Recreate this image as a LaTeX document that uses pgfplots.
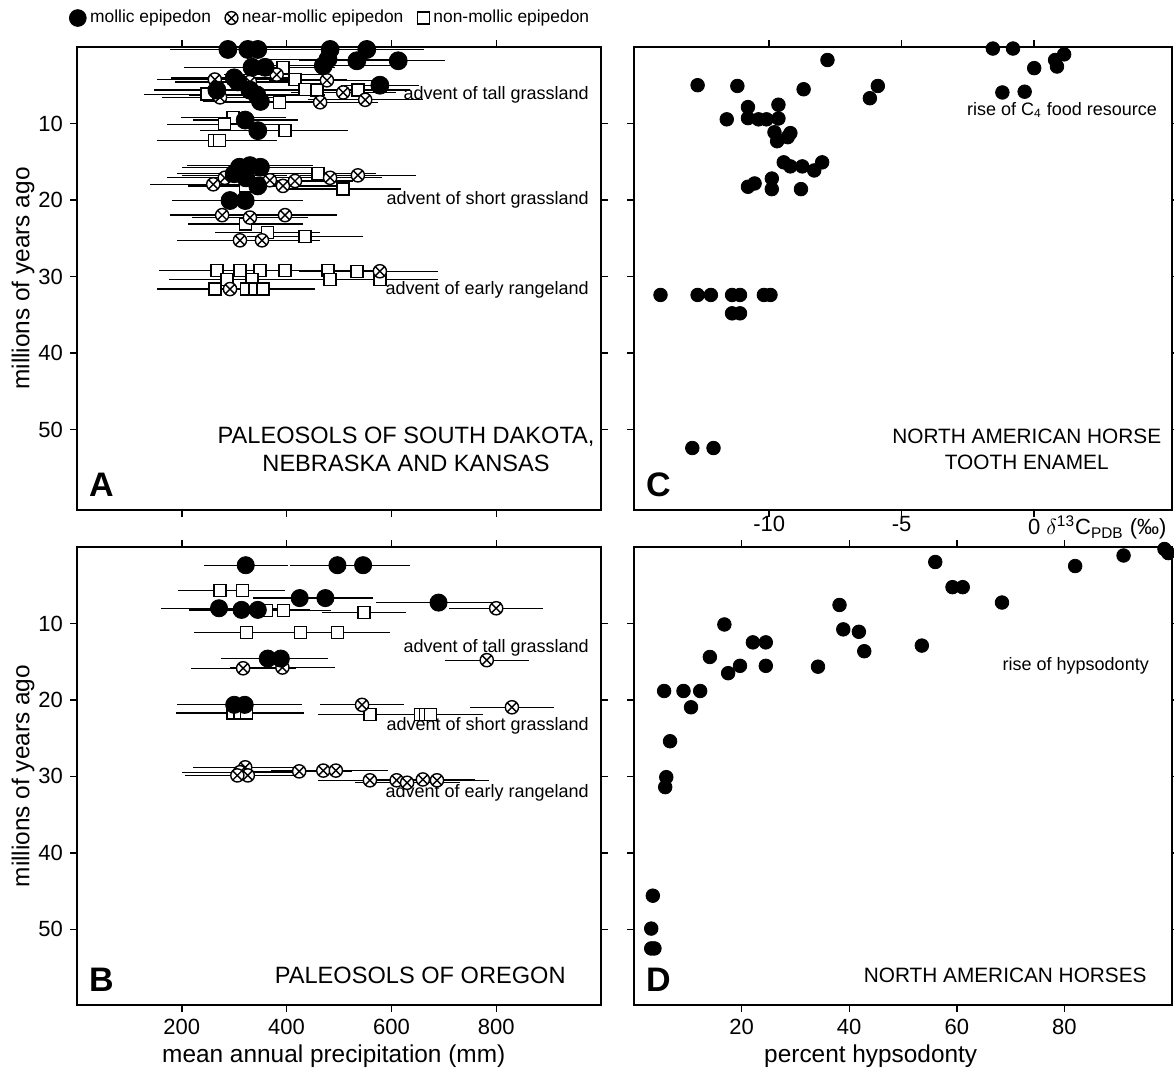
\documentclass[border=0pt]{standalone}
\usepackage{fontspec}
\setmainfont{Liberation Sans}
\usepackage{pgfplots}
\usepackage{pgfplotstable}
\pgfplotsset{compat=1.18}

% Panel A: South Dakota, Nebraska, Kansas (mm, Ma, +/- mm)
\pgfplotstableread{
x y e
288 0.32 110
326 0.32 120
345 0.32 120
483 0.32 130
553 0.32 110
479 1.59 120
534 1.80 110
613 1.80 90
470 2.44 130
334 2.65 130
359 2.65 120
307 4.56 120
578 4.99 75
267 5.63 120
330 5.63 120
343 6.26 130
300 4.03 120
350 7.11 110
321 9.55 100
345 10.93 110
310 15.71 110
330 15.50 120
350 15.71 110
300 16.56 110
322 17.09 110
345 18.15 110
292 20.06 110
321 20.06 110
}\Amol
\pgfplotstableread{
x y e
263 4.25 110
381 3.61 100
477 4.35 110
508 5.94 100
550 6.90 110
464 7.22 110
330 4.56 100
273 6.58 110
260 17.94 120
282 17.09 110
300 16.77 100
368 17.41 110
393 18.15 110
416 17.51 110
483 17.09 100
536 16.77 110
277 21.97 100
330 22.29 110
397 21.97 100
311 25.26 120
353 25.26 110
578 29.30 110
292 31.63 110
}\Anear
\pgfplotstableread{
x y e
393 2.65 100
416 4.25 100
435 5.52 110
458 5.63 100
387 7.22 120
536 5.63 100
248 6.16 120
298 9.23 100
282 10.08 110
397 10.93 120
262 12.21 110
272 12.21 110
321 18.15 110
460 16.56 110
508 18.57 110
321 23.14 110
363 24.20 100
435 24.73 110
267 29.19 110
311 29.19 120
349 29.19 110
397 29.19 100
479 29.19 110
534 29.30 110
286 30.36 110
334 30.36 120
483 30.36 110
578 30.36 110
263 31.63 110
324 31.63 110
340 31.63 100
355 31.63 100
}\Anon

% Panel B: Oregon
\pgfplotstableread{
x y e
322 2.38 80
497 2.38 90
546 2.38 90
425 6.68 90
474 6.68 90
690 7.27 120
271 8.01 110
314 8.22 100
345 8.22 100
364 14.59 90
389 14.59 90
300 20.64 110
320 20.64 110
}\Bmol
\pgfplotstableread{
x y e
317 15.86 100
392 15.76 100
782 14.80 80
544 20.64 80
830 20.96 80
800 8.01 90
321 28.81 100
311 29.45 110
326 29.87 110
306 29.87 100
424 29.34 100
470 29.24 100
494 29.24 100
559 30.51 100
610 30.51 100
630 30.83 100
660 30.40 100
687 30.51 100
}\Bnear
\pgfplotstableread{
x y e
273 5.67 80
316 5.67 80
362 8.33 90
394 8.33 90
548 8.54 80
324 11.19 100
427 11.19 100
497 11.19 100
298 21.71 110
311 21.71 110
324 21.71 110
559 21.92 100
655 21.92 100
665 21.92 100
675 21.92 100
}\Bnon

% Panel C: horse tooth enamel (d13C, Ma)
\pgfplotstableread{
x y
-1.56 0.2
-0.8 0.2
1.13 0.96
0.79 1.70
0.86 2.55
0 2.76
-7.8 1.70
-12.7 4.99
-11.2 5.09
-8.7 5.52
-5.9 5.09
-6.2 6.69
-1.2 5.94
-0.36 5.84
-10.8 7.85
-9.65 7.54
-11.6 9.45
-10.8 9.29
-10.4 9.45
-10.1 9.45
-9.65 9.34
-9.8 11.14
-9.7 12.31
-9.3 11.78
-9.2 11.25
-9.45 15.07
-9.2 15.60
-8.75 15.60
-8.3 16.13
-8.0 15.07
-10.8 18.26
-10.55 17.83
-9.9 17.19
-9.9 18.57
-8.8 18.57
-14.1 32.4
-12.7 32.4
-12.2 32.4
-11.4 32.4
-11.1 32.4
-10.2 32.4
-9.95 32.4
-11.4 34.8
-11.1 34.8
-12.9 52.4
-12.1 52.4
}\Cdat

% Panel D: percent hypsodonty (%, Ma)
\pgfplotstableread{
x y
98.6 0.26
99.3 0.79
91.0 1.11
82.0 2.49
56.0 1.96
59.2 5.25
61.1 5.25
68.4 7.26
38.2 7.58
16.8 10.13
38.9 10.77
41.8 11.09
42.8 13.63
22.1 12.47
24.5 12.47
14.1 14.38
19.7 15.54
24.5 15.54
17.5 16.50
34.2 15.65
53.5 12.89
5.6 18.83
9.2 18.83
12.3 18.83
10.6 20.96
6.7 25.4
6.0 30.1
5.8 31.4
3.5 45.6
3.2 49.9
3.2 52.5
3.8 52.5
}\Ddat

\pgfplotsset{
  panel/.style={
    scale only axis,
    y dir=reverse, ymin=0,
    ytick={10,20,30,40,50},
    tick align=outside, major tick length=3.5pt,
    axis line style={line width=0.75pt},
    every tick/.style={line width=0.7pt, black},
    tick label style={font=\fontsize{11}{13}\selectfont},
    label style={font=\fontsize{12.2}{14}\selectfont},
    /pgf/number format/assume math mode=true,
    clip=false,
  },
  toprow/.style={panel, height=231.5pt, ymax=60.5},
  botrow/.style={panel, height=229pt, ymax=59.9},
  ebar/.style={error bars/.cd, x dir=both, x explicit, error mark=none,
    error bar style={line width=0.65pt, black}},
  mol/.style={only marks, mark=*, mark size=#1, mark options={draw=black, fill=black}},
  near/.style={only marks, mark=otimes*, mark size=3.3pt, mark options={draw=black, fill=white, line width=0.7pt}},
  non/.style={only marks, mark=square*, mark size=3pt, mark options={draw=black, fill=white, line width=0.7pt}},
}
\tikzset{
  note/.style={font=\fontsize{9}{10}\selectfont, anchor=east},
  ttlA/.style={font=\fontsize{11.8}{14}\selectfont, align=center},
  ttlC/.style={font=\fontsize{10.4}{13}\selectfont, align=center},
  letter/.style={font=\fontsize{17}{19}\selectfont\bfseries, anchor=south west, xshift=2.5pt, yshift=3pt},
}

\begin{document}
\begin{tikzpicture}
\useasboundingbox (0,0) rectangle (587pt,-536pt);

% ---------- A ----------
\begin{axis}[toprow, at={(38.5pt,-23.5pt)}, anchor=north west, width=262pt,
  xmin=0, xmax=1000, xtick={200,400,600,800}, xticklabels={},
  ylabel={millions of years ago},
  ylabel style={at={(axis description cs:-0.103,0.5)}, anchor=center},
  legend columns=3,
  legend style={at={(axis description cs:0,1.0626)}, anchor=west, xshift=-7pt,
    draw=none, fill=none, font=\fontsize{8.7}{10}\selectfont,
    /tikz/every even column/.append style={column sep=5pt}},
  legend image code/.code={\draw[#1] plot coordinates {(0.1cm,0cm)};},
]
\addlegendimage{mol=4.2pt}
\addlegendentry{mollic epipedon}
\addlegendimage{only marks, mark=otimes*, mark size=3.2pt, mark options={draw=black, fill=white, line width=0.7pt}}
\addlegendentry{near-mollic epipedon}
\addlegendimage{only marks, mark=square*, mark size=3pt, mark options={draw=black, fill=white, line width=0.7pt}}
\addlegendentry{non-mollic epipedon}
\addplot[forget plot, non, ebar] table[x=x, y=y, x error=e] {\Anon};
\addplot[forget plot, near, ebar] table[x=x, y=y, x error=e] {\Anear};
\addplot[forget plot, mol=4.5pt, ebar] table[x=x, y=y, x error=e] {\Amol};
\node[note] at (axis cs:990,6.3) {advent of tall grassland};
\node[note] at (axis cs:990,19.95) {advent of short grassland};
\node[note] at (axis cs:990,31.7) {advent of early rangeland};
\node[ttlA] at (axis description cs:0.628,0.13) {PALEOSOLS OF SOUTH DAKOTA,\\ NEBRASKA AND KANSAS};
\node[letter] at (axis description cs:0,0) {A};
\end{axis}

% ---------- B ----------
\begin{axis}[botrow, at={(38.5pt,-273.5pt)}, anchor=north west, width=262pt,
  xmin=0, xmax=1000, xtick={200,400,600,800},
  ylabel={millions of years ago},
  ylabel style={at={(axis description cs:-0.103,0.5)}, anchor=center},
  xlabel={mean annual precipitation (mm)},
  xlabel style={at={(axis description cs:0.49,-0.111)}, anchor=center},
]
\addplot[non, ebar] table[x=x, y=y, x error=e] {\Bnon};
\addplot[near, ebar] table[x=x, y=y, x error=e] {\Bnear};
\addplot[mol=4.3pt, ebar] table[x=x, y=y, x error=e] {\Bmol};
\node[note] at (axis cs:990,13.2) {advent of tall grassland};
\node[note] at (axis cs:990,23.4) {advent of short grassland};
\node[note] at (axis cs:990,32.2) {advent of early rangeland};
\node[ttlA] at (axis description cs:0.655,0.065) {PALEOSOLS OF OREGON};
\node[letter] at (axis description cs:0,0) {B};
\end{axis}

% ---------- C ----------
\begin{axis}[toprow, at={(317pt,-23.5pt)}, anchor=north west, width=269pt,
  xmin=-15.1, xmax=5.2, xtick={-10,-5,0},
  xticklabels={-10,-5,{0\rlap{ $\delta$\textsuperscript{13}C\textsubscript{PDB} (‰)}}},
  xticklabel style={yshift=4pt},
  yticklabels={},
]
\addplot[mol=3.4pt] table[x=x, y=y] {\Cdat};
\node[note] at (axis cs:4.9,8.17) {rise of C\textsubscript{4} food resource};
\node[ttlC] at (axis description cs:0.73,0.13) {NORTH AMERICAN HORSE\\ TOOTH ENAMEL};
\node[letter] at (axis description cs:0,0) {C};
\end{axis}

% ---------- D ----------
\begin{axis}[botrow, at={(317pt,-273.5pt)}, anchor=north west, width=269pt,
  xmin=0, xmax=100, xtick={20,40,60,80},
  yticklabels={},
  xlabel={percent hypsodonty},
  xlabel style={at={(axis description cs:0.44,-0.111)}, anchor=center},
]
\addplot[mol=3.4pt] table[x=x, y=y] {\Ddat};
\node[note] at (axis cs:97,15.5) {rise of hypsodonty};
\node[ttlC] at (axis description cs:0.69,0.065) {NORTH AMERICAN HORSES};
\node[letter] at (axis description cs:0,0) {D};
\end{axis}
\end{tikzpicture}
\end{document}
